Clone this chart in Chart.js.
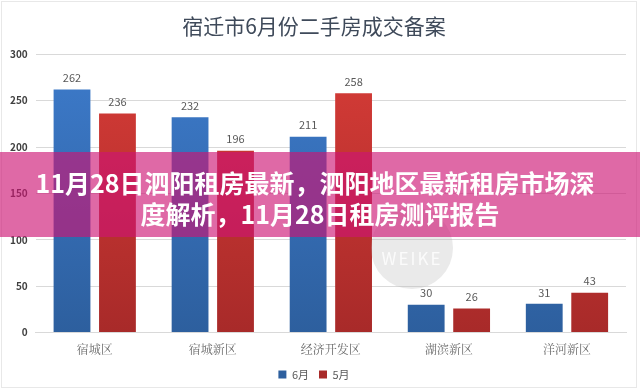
<!DOCTYPE html>
<html>
<head>
<meta charset="utf-8">
<script src="https://cdn.jsdelivr.net/npm/chart.js@4.4.0/dist/chart.umd.min.js"></script>
<style>
  html, body { margin: 0; padding: 0; background: #fff; }
  #wrap { width: 640px; height: 392px; position: relative; }
</style>
</head>
<body>
<div id="wrap"><canvas id="myChart"></canvas></div>
<script>
const districts = ["宿城区", "宿城新区", "经济开发区", "湖滨新区", "洋河新区"];
const june = [262, 232, 211, 30, 31];
const may = [236, 196, 258, 26, 43];
const yTicks = [0, 50, 100, 150, 200, 250, 300];
const titleText = "宿迁市6月份二手房成交备案";
const bannerLines = ["11月28日泗阳租房最新，泗阳地区最新租房市场深", "度解析，11月28日租房测评报告"];

const CJK = '"Noto Sans CJK SC", "Noto Sans", sans-serif';

function barGradient(top, bottom) {
  return function (ctx) {
    const area = ctx.chart.chartArea;
    if (!area) return top;
    const g = ctx.chart.ctx.createLinearGradient(0, area.top, 0, area.bottom);
    g.addColorStop(0, top);
    g.addColorStop(1, bottom);
    return g;
  };
}

// value labels above each bar
const valueLabels = {
  id: "valueLabels",
  afterDatasetsDraw(chart) {
    const c = chart.ctx;
    c.save();
    c.font = "11px " + CJK;
    c.fillStyle = "#595959";
    c.textAlign = "center";
    c.textBaseline = "bottom";
    chart.data.datasets.forEach((ds, i) => {
      chart.getDatasetMeta(i).data.forEach((bar, j) => {
        c.fillText(ds.data[j], bar.x, bar.y - 6);
      });
    });
    c.restore();
  }
};

// frame, watermark and the pink banner laid over the chart
const overlay = {
  id: "overlay",
  afterDraw(chart) {
    const c = chart.ctx;
    c.save();
    c.strokeStyle = "#e8e8e8";
    c.lineWidth = 1;
    c.strokeRect(1.5, 1.5, 635, 386);

    c.fillStyle = "rgba(185,185,185,0.3)";
    c.beginPath();
    c.arc(412, 248, 41, 0, Math.PI * 2);
    c.fill();
    c.fillStyle = "rgba(255,255,255,0.8)";
    c.font = "17px " + CJK;
    c.textAlign = "center";
    c.textBaseline = "middle";
    c.letterSpacing = "2px";
    c.fillText("WEIKE", 412, 259);
    c.letterSpacing = "0px";

    c.fillStyle = "rgba(205,20,115,0.64)";
    c.fillRect(0, 152, 640, 85);
    c.fillStyle = "#ffffff";
    c.font = "bold 25px " + CJK;
    c.fillText(bannerLines[0], 315, 183);
    c.fillText(bannerLines[1], 320, 214);
    c.restore();
  }
};

new Chart("myChart", {
  type: "bar",
  data: {
    labels: districts,
    datasets: [
      {
        label: "6月",
        data: june,
        backgroundColor: barGradient("#3d7bcb", "#2d5f9e"),
        categoryPercentage: 0.77,
        barPercentage: 0.81
      },
      {
        label: "5月",
        data: may,
        backgroundColor: barGradient("#d63c37", "#a82a29"),
        categoryPercentage: 0.77,
        barPercentage: 0.81
      }
    ]
  },
  options: {
    responsive: true,
    maintainAspectRatio: false,
    animation: false,
    layout: { padding: { left: 2, right: 14, top: 1, bottom: 2 } },
    plugins: {
      title: {
        display: true,
        text: titleText,
        color: "#3f4a5a",
        font: { size: 21, family: CJK, weight: "normal" },
        padding: { top: 12, bottom: 16 }
      },
      legend: {
        position: "bottom",
        labels: {
          color: "#595959",
          font: { size: 11, family: CJK },
          boxWidth: 8,
          boxHeight: 8,
          padding: 10
        }
      },
      tooltip: { enabled: false }
    },
    scales: {
      x: {
        grid: { display: false },
        border: { color: "#d9d9d9" },
        ticks: {
          color: "#6b6b6b",
          font: { size: 12, family: '"Noto Serif CJK SC", "Noto Sans CJK SC", serif' },
          padding: 2
        }
      },
      y: {
        min: 0,
        max: 300,
        afterBuildTicks(scale) {
          scale.ticks = yTicks.map(v => ({ value: v }));
        },
        grid: { color: "#d9d9d9", drawTicks: false },
        border: { display: false },
        ticks: {
          color: "#404040",
          font: { size: 10, family: CJK, weight: "bold" },
          padding: 8
        }
      }
    }
  },
  plugins: [valueLabels, overlay]
});
</script>
</body>
</html>
